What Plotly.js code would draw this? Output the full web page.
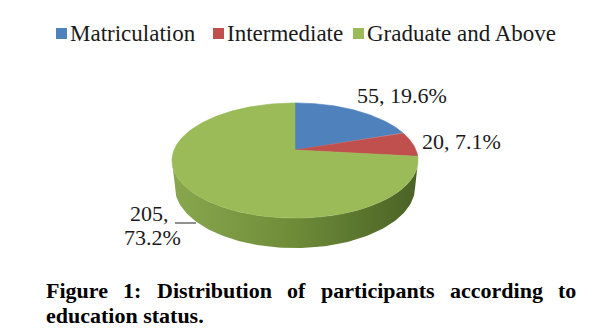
<!DOCTYPE html>
<html>
<head>
<meta charset="utf-8">
<script src="https://cdn.plot.ly/plotly-3.0.1.min.js"></script>
<style>
  html, body { margin: 0; padding: 0; background: #ffffff; }
  #chart { width: 602px; height: 335px; }
</style>
</head>
<body>
<div id="chart"></div>
<script>
// ---- data ----
const categories = ['Matriculation', 'Intermediate', 'Graduate and Above'];
const counts = [55, 20, 205];
const sliceColors = ['#4F81BD', '#C0504D', '#9BBB59'];
const captionLine1 = 'Figure 1: Distribution of participants according to';
const captionLine2 = 'education status.';

// ---- projection of a tilted 3D pie (perspective) ----
const CX = 295, CY = 150;          // apex of the pie on the page
const F = 121;                     // radius scale
const ALPHA = 27.4 * Math.PI / 180; // tilt
const DIST = 4.86;                 // camera distance
const H = 0.249;                   // thickness
function proj(phi, Y) {
  const X = Math.cos(phi), Z = -Math.sin(phi);
  const den = 1 - (Y * Math.sin(ALPHA) + Z * Math.cos(ALPHA)) / DIST;
  const xs = F * X / den;
  const ys = F * (Y * Math.cos(ALPHA) - Z * Math.sin(ALPHA)) / den;
  return [CX + xs, CY - ys];
}

const total = counts.reduce((a, b) => a + b, 0);
const traces = [];
const STEPS = 120;

// slice angular ranges: start at 12 o'clock, clockwise
const ranges = [];
let acc = 0;
counts.forEach(v => {
  const a0 = Math.PI / 2 - 2 * Math.PI * acc / total;
  acc += v;
  const a1 = Math.PI / 2 - 2 * Math.PI * acc / total;
  ranges.push([a0, a1]);
});

// side (front, visible part)
const k = Math.cos(ALPHA) / DIST;
const sideStart = -Math.asin(k);
const sideEnd = -Math.PI + Math.asin(k);
const sideScales = {
  '#9BBB59': [[0, '#88a74e'], [0.45, '#718f3a'], [1, '#4a6226']],
  '#C0504D': [[0, '#a8403d'], [1, '#7a2b29']],
  '#4F81BD': [[0, '#426ea3'], [1, '#2e4f78']]
};
ranges.forEach((r, i) => {
  for (let shift of [0, -2 * Math.PI, 2 * Math.PI]) {
    const hi = Math.min(r[0] + shift, sideStart);
    const lo = Math.max(r[1] + shift, sideEnd);
    if (hi > lo) {
      const xs = [], ys = [];
      for (let s = 0; s <= STEPS; s++) {
        const p = proj(hi - (hi - lo) * s / STEPS, 0);
        xs.push(p[0]); ys.push(p[1]);
      }
      for (let s = STEPS; s >= 0; s--) {
        const p = proj(hi - (hi - lo) * s / STEPS, -H);
        xs.push(p[0]); ys.push(p[1]);
      }
      xs.push(xs[0]); ys.push(ys[0]);
      traces.push({
        type: 'scatter', mode: 'lines', x: xs, y: ys, fill: 'toself',
        fillgradient: { type: 'horizontal', colorscale: sideScales[sliceColors[i]] },
        line: { width: 0 }, hoverinfo: 'skip', showlegend: false
      });
    }
  }
});

// top face slices
ranges.forEach((r, i) => {
  const xs = [CX], ys = [CY];
  for (let s = 0; s <= STEPS * 2; s++) {
    const p = proj(r[0] + (r[1] - r[0]) * s / (STEPS * 2), 0);
    xs.push(p[0]); ys.push(p[1]);
  }
  xs.push(CX); ys.push(CY);
  traces.push({
    type: 'scatter', mode: 'lines', x: xs, y: ys, fill: 'toself',
    fillcolor: sliceColors[i], line: { width: 0.6, color: sliceColors[i] },
    name: categories[i], hoverinfo: 'skip', showlegend: false
  });
});

// ---- labels ----
const SERIF = 'Liberation Serif, Times New Roman, serif';
const pct = counts.map(v => (100 * v / total).toFixed(1) + '%');
const labelFont = { family: SERIF, size: 22, color: '#1a1a1a' };
const annotations = [];
const shapes = [];
annotations.push({ x: 402, y: 95, text: counts[0] + ', ' + pct[0] });
annotations.push({ x: 461, y: 141, text: counts[1] + ', ' + pct[1] });
annotations.push({ x: 149, y: 213, text: counts[2] + ',' });
annotations.push({ x: 152, y: 237, text: pct[2] });
annotations.forEach(a => Object.assign(a, {
  xref: 'x', yref: 'y', showarrow: false, font: labelFont, xanchor: 'center', yanchor: 'middle', borderpad: 0
}));
shapes.push({ type: 'line', xref: 'x', yref: 'y', x0: 175, x1: 196, y0: 223, y1: 223,
  line: { color: '#222', width: 1 } });

// ---- legend ----
const legendX = [56, 213, 353];
const legendFont = { family: SERIF, size: 23, color: '#1a1a1a' };
categories.forEach((c, i) => {
  shapes.push({ type: 'rect', xref: 'x', yref: 'y', x0: legendX[i], x1: legendX[i] + 11,
    y0: 28, y1: 39, fillcolor: sliceColors[i], line: { width: 0 } });
  annotations.push({ x: legendX[i] + 13, y: 33, xref: 'x', yref: 'y', text: c, showarrow: false,
    xanchor: 'left', yanchor: 'middle', font: legendFont, borderpad: 0 });
});

// ---- caption (justified first line) ----
const capFontSize = 22;
const capFont = { family: SERIF, size: capFontSize, color: '#000', weight: 'bold' };
const canvas = document.createElement('canvas');
const ctx = canvas.getContext('2d');
ctx.font = 'bold ' + capFontSize + 'px "Liberation Serif"';
const words = captionLine1.split(' ');
const widths = words.map(w => ctx.measureText(w).width);
const left = 45, right = 575;
const gap = (right - left - widths.reduce((a, b) => a + b, 0)) / (words.length - 1);
let xpos = left;
words.forEach((w, i) => {
  annotations.push({ x: xpos, y: 290, xref: 'x', yref: 'y', text: '<b>' + w + '</b>', showarrow: false,
    xanchor: 'left', yanchor: 'middle', font: capFont, borderpad: 0 });
  xpos += widths[i] + gap;
});
annotations.push({ x: left, y: 315, xref: 'x', yref: 'y', text: '<b>' + captionLine2 + '</b>', showarrow: false,
  xanchor: 'left', yanchor: 'middle', font: capFont, borderpad: 0 });

const layout = {
  width: 602, height: 335,
  margin: { l: 0, r: 0, t: 0, b: 0 },
  paper_bgcolor: '#ffffff', plot_bgcolor: '#ffffff',
  xaxis: { range: [0, 602], visible: false, fixedrange: true },
  yaxis: { range: [335, 0], visible: false, fixedrange: true },
  showlegend: false,
  annotations: annotations,
  shapes: shapes,
  hovermode: false
};

Plotly.newPlot('chart', traces, layout, { staticPlot: true, displayModeBar: false });
</script>
</body>
</html>
